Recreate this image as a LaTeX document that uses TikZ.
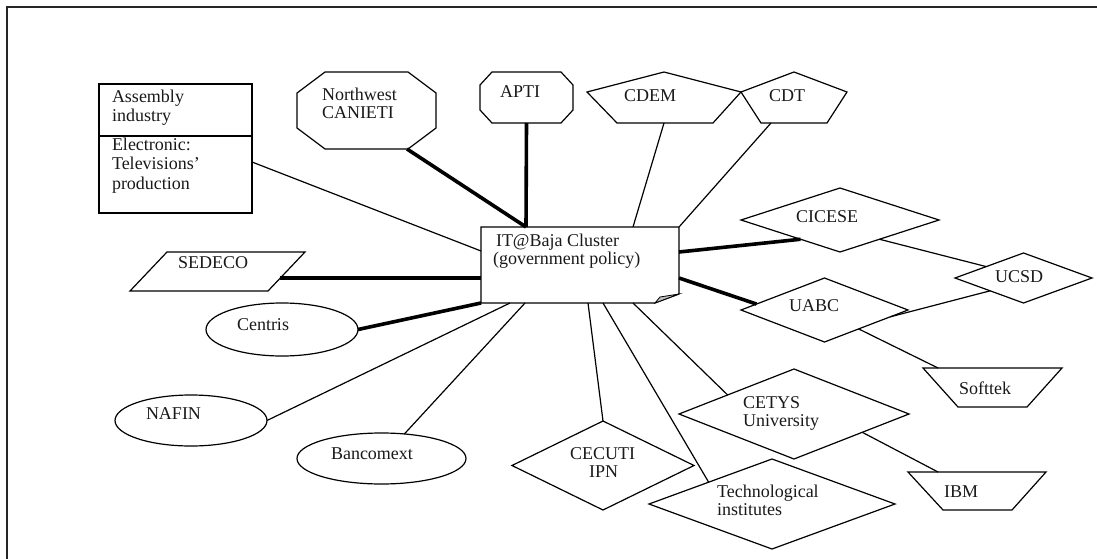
\documentclass[tikz,border=0pt]{standalone}
\usepackage{fontspec}
\setmainfont{Liberation Serif}
\usetikzlibrary{shapes.geometric}
\newcommand\octagonpath[3]{\draw[shp] ([xshift=#2]#1.north west) -- ([xshift=-#2]#1.north east) -- ([yshift=-#3]#1.north east) -- ([yshift=#3]#1.south east) -- ([xshift=-#2]#1.south east) -- ([xshift=#2]#1.south west) -- ([yshift=#3]#1.south west) -- ([yshift=-#3]#1.north west) -- cycle;}
\newcommand\pentapath[4]{\draw[shp] (#1.north) -- ([yshift=-#4]#1.north east) -- ([xshift=-#3]#1.south east) -- ([xshift=#2]#1.south west) -- ([yshift=-#4]#1.north west) -- cycle;}
\newcommand\trappath[3]{\draw[shp] (#1.north west) -- (#1.north east) -- ([xshift=-#3]#1.south east) -- ([xshift=#2]#1.south west) -- cycle;}
\begin{document}
\begin{tikzpicture}[x=1pt,y=-1pt,
  box/.style={draw=none, rectangle, inner sep=0pt, outer sep=0pt},
  shp/.style={line width=1.2pt, line join=miter},
  dia/.style={draw, diamond, line width=1.2pt, inner sep=0pt, outer sep=0pt},
  ell/.style={draw, ellipse, line width=1.2pt, inner sep=0pt, outer sep=0pt},
  lbl/.style={anchor=base west, inner sep=0pt, outer sep=0pt, text=black!90, font=\fontsize{18}{20}\selectfont},
  conn/.style={line width=1.2pt},
  heavy/.style={line width=3.6pt},
]
\useasboundingbox (0,0) rectangle (1097,559);
\draw[line width=2pt, draw=black!85] (1097,7) -- (7,7) -- (7,559);

% shapes
\node[draw, rectangle, line width=1.2pt, inner sep=0pt, outer sep=0pt, minimum width=153pt, minimum height=129pt] (asm) at (175.5,148.5) {};
\draw[shp] ([yshift=-52pt]asm.north west) -- ([yshift=-52pt]asm.north east);

\node[box, minimum width=198pt, minimum height=76pt] (it) at (580,265) {};
\draw[shp] (it.north west) -- (it.north east) -- ([yshift=9pt]it.south east) -- ([xshift=-24pt]it.south east) -- (it.south west) -- cycle;
\filldraw[fill=black!25, line width=0.8pt] ([xshift=-24pt]it.south east) -- ([xshift=-19pt,yshift=6pt]it.south east) -- ([yshift=9pt]it.south east) -- cycle;

\node[box, minimum width=139pt, minimum height=77pt] (nwc) at (366.5,110.5) {};
\octagonpath{nwc}{28pt}{21pt}
\node[box, minimum width=93pt, minimum height=51pt] (apti) at (526.5,97.5) {};
\octagonpath{apti}{12pt}{13pt}

\node[box, minimum width=154pt, minimum height=51pt] (cdem) at (664,97.5) {};
\pentapath{cdem}{30pt}{28pt}{20pt}
\node[box, minimum width=106pt, minimum height=51pt] (cdt) at (794,97.5) {};
\pentapath{cdt}{20pt}{20pt}{20pt}

\node[box, minimum width=175pt, minimum height=39pt] (sed) at (217.5,271.5) {};
\draw[shp] (sed.south west) -- ([xshift=-37pt]sed.south east) -- (sed.north east) -- ([xshift=37pt]sed.north west) -- cycle;

\node[box, minimum width=139pt, minimum height=39pt] (sof) at (992.5,387.5) {};
\trappath{sof}{35pt}{35pt}
\node[box, minimum width=138pt, minimum height=38pt] (ibm) at (977,491) {};
\trappath{ibm}{35pt}{34pt}

\node[dia, minimum width=198pt, minimum height=64pt] (cic) at (840,220) {};
\node[dia, minimum width=137pt, minimum height=50pt] (ucsd) at (1023.5,278) {};
\node[dia, minimum width=167pt, minimum height=64pt] (uabc) at (824.5,310) {};
\node[dia, minimum width=230pt, minimum height=90pt] (cet) at (794,414) {};
\node[dia, minimum width=182pt, minimum height=89pt] (cec) at (603,465.5) {};
\node[dia, minimum width=246pt, minimum height=90pt] (tech) at (772,504) {};

\node[ell, minimum width=152pt, minimum height=53pt] (cen) at (282,329.5) {};
\node[ell, minimum width=152pt, minimum height=51pt] (naf) at (191,420.5) {};
\node[ell, minimum width=169pt, minimum height=51pt] (ban) at (381.5,458.5) {};

% connectors
\draw[conn] ([yshift=-13.5pt]asm.east) -- ([yshift=14pt]it.west);
\draw[heavy] ([xshift=-29pt]nwc.south east) -- ([xshift=-54pt]it.north);
\draw[heavy] (apti.south) -- ([xshift=-54pt]it.north);
\draw[conn] (cdem.south) -- ([xshift=53pt]it.north);
\draw[conn] ([xshift=-23pt]cdt.south) -- (it.north east);
\draw[heavy] ([yshift=13pt]it.east) -- (cic.206.6);
\draw[conn] (cic.334.6) -- (ucsd.163.2);
\draw[heavy] ([yshift=-13pt]it.east) -- (uabc.175.1);
\draw[conn] (uabc.354) -- (ucsd.201);
\draw[conn] (uabc.331.9) -- ([xshift=-54.5pt]sof.north);
\draw[conn] ([xshift=53pt]it.south) -- (cet.164.6);
\draw[conn] (cet.345.4) -- ([xshift=-39pt]ibm.north);
\draw[conn] ([xshift=8pt]it.south) -- (cec.north);
\draw[conn] ([xshift=23pt]it.south) -- (tech.161.6);
\draw[conn] ([xshift=-55pt]it.south) -- (ban.47.4);
\draw[conn] ([xshift=-70pt]it.south) -- (naf.east);
\draw[heavy] (it.south west) -- (cen.east);
\draw[heavy] ([yshift=-13pt]it.west) -- ([xshift=-25pt,yshift=-6.5pt]sed.east);

% labels
\node[lbl] (t1) at (112,103) {Assembly};
\node[lbl] (t2) at (112,122) {industry};
\node[lbl] (t3) at (112,150.5) {Electronic:};
\node[lbl] (t4) at (112,169.5) {Televisions’};
\node[lbl] (t5) at (112,189) {production};
\node[lbl] (t6) at (322,101) {Northwest};
\node[lbl] (t7) at (322,118) {CANIETI};
\node[lbl] (t8) at (500,97.5) {APTI};
\node[lbl] (t9) at (624,101.5) {CDEM};
\node[lbl] (t10) at (769,101.5) {CDT};
\node[lbl] (t11) at (496,246) {IT@Baja Cluster};
\node[lbl] (t12) at (493,264) {(government policy)};
\node[lbl] (t13) at (796,222) {CICESE};
\node[lbl] (t14) at (995,282.5) {UCSD};
\node[lbl] (t15) at (789,311) {UABC};
\node[lbl] (t16) at (959,394) {Softtek};
\node[lbl] (t17) at (178,268) {SEDECO};
\node[lbl] (t18) at (237,330) {Centris};
\node[lbl] (t19) at (146,419) {NAFIN};
\node[lbl] (t20) at (331,459) {Bancomext};
\node[lbl] (t21) at (743,408.5) {CETYS};
\node[lbl] (t22) at (743,426.5) {University};
\node[lbl] (t23) at (570,459) {CECUTI};
\node[lbl] (t24) at (589,477) {IPN};
\node[lbl] (t25) at (717,497.5) {Technological};
\node[lbl] (t26) at (717,515) {institutes};
\node[lbl] (t27) at (944,497) {IBM};
\end{tikzpicture}
\end{document}
